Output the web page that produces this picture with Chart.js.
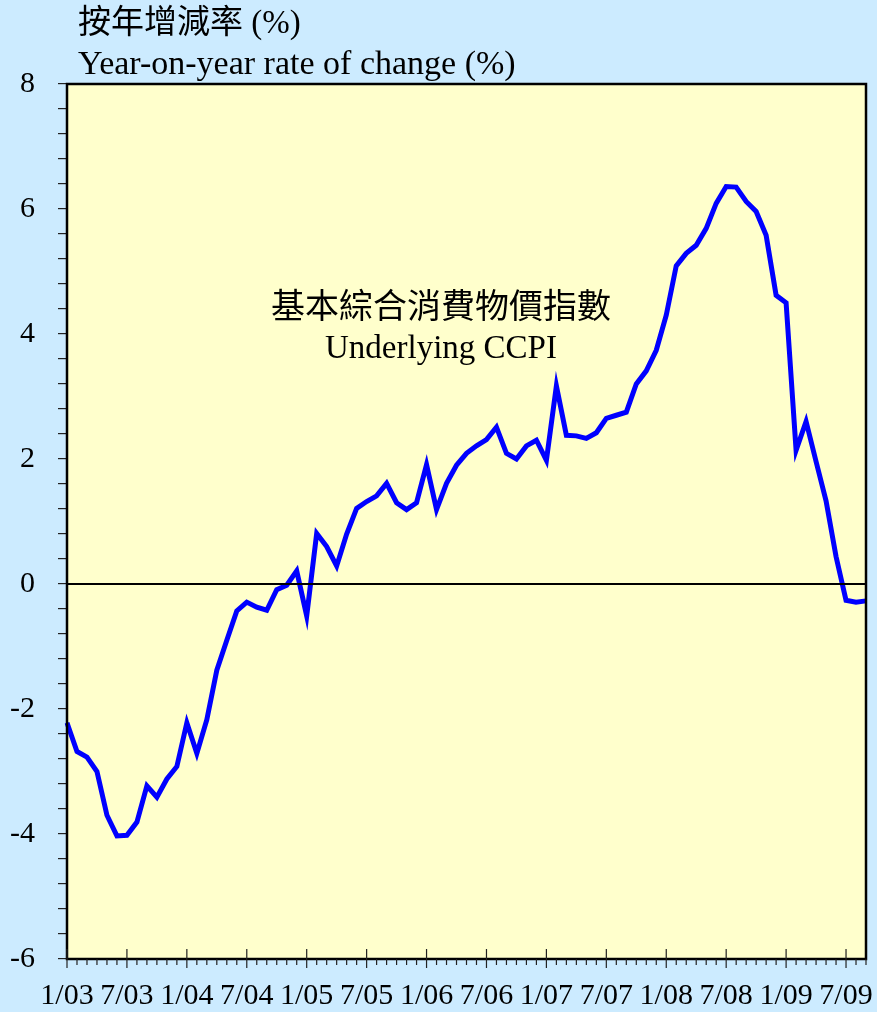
<!DOCTYPE html>
<html lang="zh-Hant">
<head>
<meta charset="UTF-8">
<title>Underlying CCPI</title>
<script src="https://cdn.jsdelivr.net/npm/chart.js@4.4.1/dist/chart.umd.min.js"></script>
<style>
  body { margin: 0; background: #CCEBFF; }
  .wrap { width: 877px; height: 1012px; }
</style>
</head>
<body>
<div class="wrap"><canvas id="ccpiChart" width="877" height="1012"></canvas></div>
<script>
// monthly, 1/03 .. 9/09
var startYear = 2003;
var monthCount = 81;
var majorLabels = ['1/03','7/03','1/04','7/04','1/05','7/05','1/06','7/06','1/07','7/07','1/08','7/08','1/09','7/09'];

// year-on-year rate of change (%) of underlying CCPI
var ccpiRate = [
  -2.22, -2.68, -2.77, -3.00, -3.70, -4.03, -4.02, -3.81, -3.23, -3.41, -3.12, -2.92,
  -2.22, -2.71, -2.17, -1.38, -0.90, -0.43, -0.29, -0.37, -0.42, -0.09, -0.02,  0.21,
  -0.51,  0.81,  0.60,  0.29,  0.80,  1.21,  1.32,  1.41,  1.61,  1.30,  1.19,  1.30,
   1.91,  1.19,  1.61,  1.90,  2.09,  2.21,  2.31,  2.51,  2.09,  2.00,  2.21,  2.30,
   1.98,  3.17,  2.38,  2.37,  2.33,  2.42,  2.65,  2.70,  2.75,  3.20,  3.41,  3.74,
   4.30,  5.09,  5.29,  5.42,  5.69,  6.09,  6.36,  6.35,  6.12,  5.96,  5.58,  4.62,
   4.50,  2.14,  2.60,  1.96,  1.33,  0.44, -0.26, -0.29, -0.27
];

var yMin = -6, yMax = 8, yMinorStep = 0.4, yMajorStep = 2;

var titleZh = '按年增減率 (%)';
var titleEn = 'Year-on-year rate of change (%)';
var seriesZh = '基本綜合消費物價指數';
var seriesEn = 'Underlying CCPI';

var bgBlue = '#CCEBFF';
var plotYellow = '#FFFFCC';
var serif = "'Liberation Serif', 'Times New Roman', 'Noto Sans CJK TC', serif";

// month labels, every month is a category
var months = [];
for (var i = 0; i < monthCount; i++) {
  var m = i % 12 + 1;
  var yy = (startYear + Math.floor(i / 12)) % 100;
  months.push(m + '/' + (yy < 10 ? '0' + yy : yy));
}

// background, zero line, frame, x ticks and the text boxes
var framePlugin = {
  id: 'frame',
  beforeDraw: function(chart) {
    var ctx = chart.ctx, a = chart.chartArea;
    ctx.save();
    ctx.fillStyle = bgBlue;
    ctx.fillRect(0, 0, chart.width, chart.height);
    ctx.fillStyle = plotYellow;
    ctx.fillRect(a.left, a.top, a.right - a.left, a.bottom - a.top);
    ctx.restore();
  },
  afterDatasetsDraw: function(chart) {
    var ctx = chart.ctx, a = chart.chartArea;
    var xs = chart.scales.x, ys = chart.scales.y;
    ctx.save();
    var y0 = ys.getPixelForValue(0);
    ctx.strokeStyle = '#000';
    ctx.lineWidth = 2;
    ctx.beginPath();
    ctx.moveTo(a.left, y0);
    ctx.lineTo(a.right, y0);
    ctx.stroke();

    ctx.lineWidth = 2.5;
    ctx.strokeRect(a.left, a.top, a.right - a.left, a.bottom - a.top);

    // monthly ticks, the half-year ones cross the axis
    ctx.lineWidth = 1.2;
    ctx.strokeStyle = '#222';
    for (var i = 0; i < months.length; i++) {
      var px = xs.getPixelForValue(i);
      var major = majorLabels.indexOf(months[i]) >= 0;
      ctx.beginPath();
      ctx.moveTo(px, major ? a.bottom - 10 : a.bottom);
      ctx.lineTo(px, a.bottom + (major ? 9 : 6));
      ctx.stroke();
    }

    ctx.fillStyle = '#000';
    ctx.textBaseline = 'alphabetic';
    ctx.textAlign = 'left';
    ctx.font = '33px ' + serif;
    ctx.fillText(titleZh, 78, 33);
    ctx.font = '34px ' + serif;
    ctx.fillText(titleEn, 78, 74);

    ctx.textAlign = 'center';
    ctx.font = '34px ' + serif;
    ctx.fillText(seriesZh, 441, 318);
    ctx.font = '33px ' + serif;
    ctx.fillText(seriesEn, 441, 358);
    ctx.restore();
  }
};

var ctxCcpi = document.getElementById('ccpiChart').getContext('2d');

var ccpiChart = new Chart(ctxCcpi, {
  type: 'line',
  data: {
    labels: months,
    datasets: [
      {
        label: seriesEn,
        data: ccpiRate,
        borderColor: '#0000FF',
        borderWidth: 5,
        pointRadius: 0,
        tension: 0,
        fill: false
      }
    ]
  },
  options: {
    responsive: false,
    animation: false,
    events: [],
    layout: { padding: { left: 0, right: 0, top: 84, bottom: 0 } },
    plugins: {
      legend: { display: false },
      tooltip: { enabled: false }
    },
    scales: {
      x: {
        type: 'category',
        offset: false,
        // invisible grid ticks only to push the labels down
        grid: {
          display: true,
          drawOnChartArea: false,
          drawTicks: true,
          tickLength: 8,
          color: 'rgba(0,0,0,0)'
        },
        border: { display: false },
        ticks: {
          autoSkip: false,
          maxRotation: 0,
          minRotation: 0,
          padding: 11,
          color: '#000',
          font: { family: serif, size: 30 },
          callback: function(val) {
            var lab = this.getLabelForValue(val);
            return majorLabels.indexOf(lab) >= 0 ? lab : '';
          }
        },
        afterFit: function(scale) { scale.height = 53; }
      },
      y: {
        min: yMin,
        max: yMax,
        grid: {
          drawOnChartArea: false,
          drawTicks: true,
          tickLength: 9,
          color: '#222',
          lineWidth: 1.2
        },
        border: { display: false },
        ticks: {
          stepSize: yMinorStep,
          maxTicksLimit: 40,
          autoSkip: false,
          padding: 23,
          color: '#000',
          font: { family: serif, size: 30 },
          callback: function(v) {
            var r = v / yMajorStep;
            return Math.abs(r - Math.round(r)) < 1e-6 ? String(Math.round(v)) : '';
          }
        },
        afterFit: function(scale) { scale.width = 67; }
      }
    }
  },
  plugins: [framePlugin]
});
</script>
</body>
</html>
